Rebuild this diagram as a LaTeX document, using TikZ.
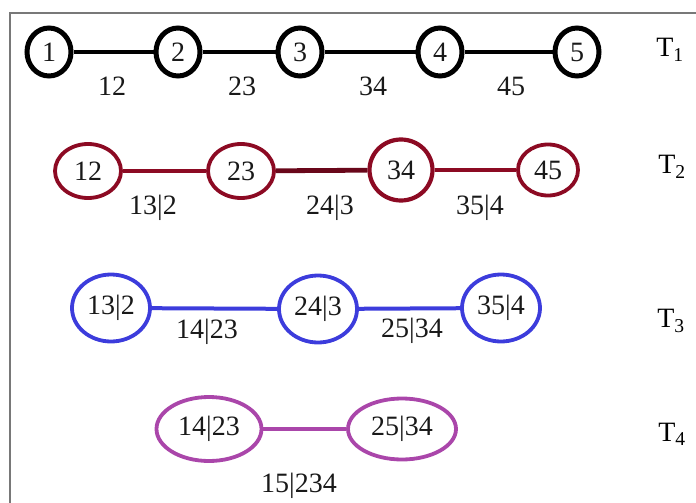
\documentclass[tikz,border=0pt]{standalone}
\usepackage{fontspec}
\setmainfont{Liberation Serif}
\usetikzlibrary{shapes.geometric}
\definecolor{tred}{RGB}{140,10,35}
\definecolor{tblue}{RGB}{60,60,220}
\definecolor{tpurple}{RGB}{170,70,170}
\definecolor{tframe}{RGB}{120,120,120}
\tikzset{
  lbl/.style={font=\fontsize{28}{30}\selectfont, text=black!90, inner sep=0pt},
  vnode/.style={ellipse, draw, inner sep=0pt, font=\fontsize{28}{30}\selectfont, text=black!90},
  blk/.style={vnode, line width=5pt, minimum width=44pt, minimum height=48pt},
  rd/.style={vnode, draw=tred, line width=3.8pt, minimum width=66pt, minimum height=54pt},
  bl/.style={vnode, draw=tblue, line width=3.8pt, minimum width=78pt, minimum height=67pt},
  pu/.style={vnode, draw=tpurple, line width=3.8pt, minimum width=105pt, minimum height=64pt},
  tlbl/.style={font=\fontsize{28}{30}\selectfont, inner sep=0pt}
}
\begin{document}
\begin{tikzpicture}[x=1pt,y=-1pt]
\useasboundingbox (0,0) rectangle (696,503);
\draw[tframe, line width=2pt] (10,503) -- (10,13) -- (696,13);
% T1
\node[blk] (a1) at (49,52) {1};
\node[blk] (a2) at (178,52) {2};
\node[blk] (a3) at (300,52) {3};
\node[blk] (a4) at (440,52) {4};
\node[blk] (a5) at (577,52) {5};
\draw[line width=4.5pt] (a1) -- (a2) (a2) -- (a3) (a3) -- (a4) (a4) -- (a5);
\node[lbl] (l12) at (112,86) {12};
\node[lbl] (l23) at (242,86) {23};
\node[lbl] (l34) at (373,86) {34};
\node[lbl] (l45) at (511,86) {45};
\node[tlbl] (t1) at (670,50) {T\textsubscript{1}};
% T2
\node[rd] (b1) at (88,171) {12};
\node[rd] (b2) at (241,171) {23};
\node[rd, minimum width=63pt, minimum height=61pt, line width=4.2pt] (b3) at (401,170) {34};
\node[rd, minimum width=60pt, minimum height=51pt] (b4) at (548,170) {45};
\draw[tred, line width=3.8pt] (b1) -- (b2) (b3) -- (b4);
\draw[tred!75!black, line width=4.8pt] (b2) -- (b3);
\node[lbl] (m1) at (153,208) {13|2};
\node[lbl] (m2) at (330,208) {24|3};
\node[lbl] (m3) at (480,208) {35|4};
\node[tlbl] (t2) at (672,167) {T\textsubscript{2}};
% T3
\node[bl] (c1) at (111,308) {13|2};
\node[bl] (c2) at (318,309) {24|3};
\node[bl] (c3) at (501,308) {35|4};
\draw[tblue, line width=4pt] (c1) -- (c2) (c2) -- (c3);
\node[lbl] (n1) at (207,332) {14|23};
\node[lbl] (n2) at (412,331) {25|34};
\node[tlbl] (t3) at (671,321) {T\textsubscript{3}};
% T4
\node[pu] (d1) at (209,429) {14|23};
\node[pu, minimum width=108pt, minimum height=61pt] (d2) at (402,429) {25|34};
\draw[tpurple, line width=3.8pt] (d1) -- (d2);
\node[lbl] (o1) at (299,486) {15|234};
\node[tlbl] (t4) at (672,434) {T\textsubscript{4}};
\end{tikzpicture}
\end{document}
